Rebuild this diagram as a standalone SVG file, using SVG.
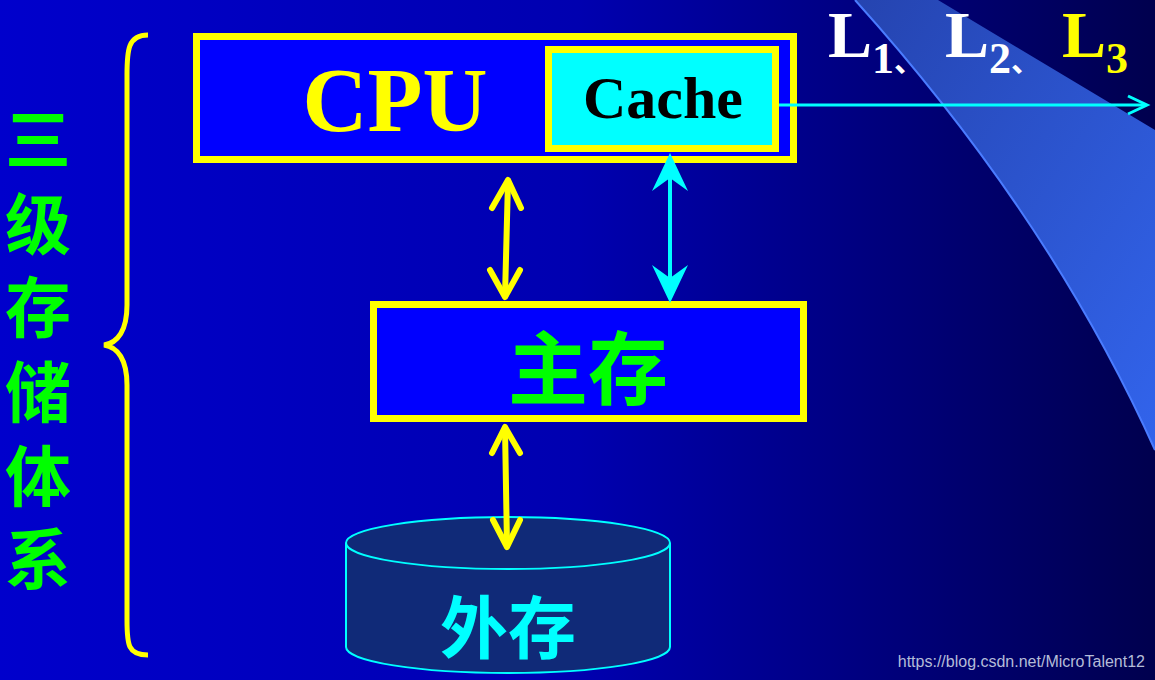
<svg xmlns="http://www.w3.org/2000/svg" width="1155" height="680" viewBox="0 0 1155 680">
<defs>
<linearGradient id="bg" x1="0" y1="0" x2="1" y2="0">
<stop offset="0" stop-color="#0000cc"/>
<stop offset="0.5" stop-color="#0000b0"/>
<stop offset="1" stop-color="#00004e"/>
</linearGradient>
<linearGradient id="beam" x1="0" y1="0" x2="1" y2="1">
<stop offset="0" stop-color="#2544b0"/>
<stop offset="1" stop-color="#3264ec"/>
</linearGradient>
<style>
.box{fill:#0000ff;stroke:#ffff00;stroke-width:7}
.ya{fill:none;stroke:#ffff00;stroke-width:6;stroke-linecap:round;stroke-linejoin:round}
.ca{fill:none;stroke:#00ffff;stroke-width:4}
.cjk{font-family:"Noto Sans CJK SC","Noto Sans",sans-serif;font-weight:700}
.serif{font-family:"Liberation Serif","Times New Roman",serif;font-weight:700}
.side{fill:#00ff00;font-size:66px;text-anchor:middle}
</style>
</defs>
<rect width="1155" height="680" fill="url(#bg)"/>
<path d="M855,0 Q1050,217 1155,450 L1155,130 L938,0 Z" fill="url(#beam)"/>
<path d="M855,0 Q1050,217 1155,450" fill="none" stroke="#4a7cff" stroke-width="2"/>

<g id="cpu">
<rect class="box" x="196.5" y="36.5" width="597" height="123"/>
<text class="serif" x="395" y="131" font-size="90" fill="#ffff00" text-anchor="middle">CPU</text>
</g>
<g id="cache">
<rect x="548.5" y="49.5" width="227" height="99" fill="#00ffff" stroke="#ffff00" stroke-width="7"/>
<text class="serif" x="663" y="118" font-size="60" fill="#000000" text-anchor="middle">Cache</text>
</g>
<g id="main-memory">
<rect class="box" x="373.5" y="304.5" width="430" height="114"/>
<text class="cjk" x="588" y="398" font-size="80" fill="#00ff00" text-anchor="middle">主存</text>
</g>
<g id="external-storage">
<path d="M346,543 L346,647 A162,26 0 0 0 670,647 L670,543" fill="#102a78" stroke="#00ffff" stroke-width="2"/>
<ellipse cx="508" cy="543" rx="162" ry="26" fill="#102a78" stroke="#00ffff" stroke-width="2"/>
<text class="cjk" x="508" y="653" font-size="68" fill="#00ffff" text-anchor="middle">外存</text>
</g>
<g id="hierarchy-label">
<path d="M148,35 C128,35 127,50 127,75 L127,305 C127,330 118,343 104,345 C118,347 127,360 127,385 L127,620 C127,645 128,655 148,655" fill="none" stroke="#ffff00" stroke-width="5"/>
<text class="cjk side" x="38" y="164">三</text>
<text class="cjk side" x="38" y="249">级</text>
<text class="cjk side" x="38" y="332">存</text>
<text class="cjk side" x="38" y="417">储</text>
<text class="cjk side" x="38" y="501">体</text>
<text class="cjk side" x="38" y="584">系</text>
</g>
<g id="levels">
<text class="serif" x="828" y="57" font-size="66" fill="#ffffff">L<tspan font-size="44" dy="16">1</tspan><tspan class="cjk" font-size="30" font-weight="400" dy="-2">、</tspan></text>
<text class="serif" x="945" y="57" font-size="66" fill="#ffffff">L<tspan font-size="44" dy="16">2</tspan><tspan class="cjk" font-size="30" font-weight="400" dy="-2">、</tspan></text>
<text class="serif" x="1062" y="57" font-size="66" fill="#ffff00">L<tspan font-size="44" dy="16">3</tspan></text>
</g>
<g id="connectors">
<line class="ya" x1="508" y1="181" x2="505" y2="296"/>
<polyline class="ya" points="492,208 508,180 521,208"/>
<polyline class="ya" points="490,270 505,297 520,270"/>
<line class="ya" x1="505" y1="428" x2="507" y2="546"/>
<polyline class="ya" points="492,453 505,427 520,453"/>
<polyline class="ya" points="493,520 507,547 520,520"/>
<line class="ca" x1="670" y1="175" x2="670" y2="281"/>
<polygon points="670,153 688,191 670,178 652,191" fill="#00ffff"/>
<polygon points="670,303 688,265 670,278 652,265" fill="#00ffff"/>
<line x1="779" y1="105" x2="1146" y2="105" stroke="#00ffff" stroke-width="3"/>
<polyline points="1128,96 1147,105 1128,114" fill="none" stroke="#00ffff" stroke-width="3"/>
</g>
<text x="1145" y="667" font-family="Liberation Sans, Arial, sans-serif" font-size="16" fill="#b4bcd8" text-anchor="end">https://blog.csdn.net/MicroTalent12</text>
</svg>
